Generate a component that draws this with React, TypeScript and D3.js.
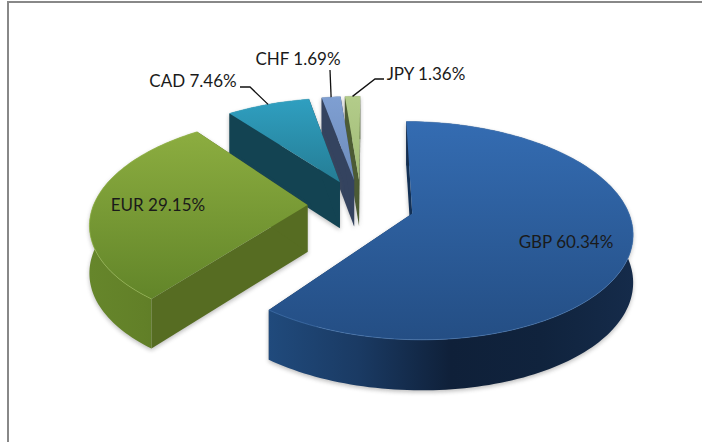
import React from "react";
import * as d3 from "d3";

const categories = ["GBP", "EUR", "CAD", "CHF", "JPY"];
const shares = [60.34, 29.15, 7.46, 1.69, 1.36];
const drawOrder = ["JPY", "CHF", "CAD", "EUR", "GBP"];

const topColors: Record<string, [string, string]> = {
  GBP: ["#346cb2", "#244e84"],
  EUR: ["#8cad40", "#628529"],
  CAD: ["#2f9fc0", "#257d95"],
  CHF: ["#7f9fd2", "#6d8cbb"],
  JPY: ["#b3cc8a", "#a0bb76"],
};
const sideColors: Record<string, string> = {
  GBP: "#123055",
  EUR: "#566c22",
  CAD: "#134352",
  CHF: "#34435f",
  JPY: "#4c5c33",
};
const rimStops: Record<string, string[]> = {
  GBP: ["#204a7c", "#1a3a63", "#0f2039", "#10233d", "#152b4a"],
  EUR: ["#66862b", "#628028", "#587424", "#516a21", "#4a621d"],
  CAD: ["#134352", "#134352", "#134352", "#134352", "#134352"],
  CHF: ["#34435f", "#34435f", "#34435f", "#34435f", "#34435f"],
  JPY: ["#4c5c33", "#4c5c33", "#4c5c33", "#4c5c33", "#4c5c33"],
};
const rimHighlight: Record<string, string> = {
  GBP: "#4f82c0",
  EUR: "#a3c25a",
  CAD: "#46b0cd",
  CHF: "#94b0dc",
  JPY: "#c6dba2",
};

const labelLayout: Record<string, { x: number; y: number; elbow?: [number, number][] }> = {
  GBP: { x: 566, y: 248 },
  EUR: { x: 158, y: 211 },
  CAD: { x: 193, y: 87, elbow: [[240, 87], [250, 87]] },
  CHF: { x: 298, y: 65, elbow: [[330, 70]] },
  JPY: { x: 426, y: 80, elbow: [[384, 79], [375, 79]] },
};

const W = 702;
const H = 442;
const cx = 361;
const cy = 205;
const sx = 214;
const sy = 103.8;
const persp = 0.155;
const explode = 0.25;
const depth = 47;
const depthPersp = 0.07;

const pieGen = d3.pie<number>().sort(null).value((d) => d).startAngle(0.005).endAngle(Math.PI * 2 + 0.005);
const arcs = pieGen(shares);

type P = [number, number];

function project(theta: number, r: number, mid: number, z: number): P {
  const X = explode * Math.sin(mid) + r * Math.sin(theta);
  const Y = -explode * Math.cos(mid) - r * Math.cos(theta);
  const w = 1 - persp * Y;
  return [cx + (sx * X) / w, cy + (sy * Y) / w + z * depth * (1 + depthPersp * Y)];
}

const line = d3.line<P>();

function App() {
  const slices = categories.map((name, i) => {
    const a = arcs[i];
    const mid = (a.startAngle + a.endAngle) / 2;
    const n = Math.max(4, Math.ceil((a.endAngle - a.startAngle) * 40));
    const thetas = d3.range(n + 1).map((k) => a.startAngle + ((a.endAngle - a.startAngle) * k) / n);
    const rimTop = thetas.map((t) => project(t, 1, mid, 0));
    const rimBottom = thetas.map((t) => project(t, 1, mid, 1));
    const apexTop = project(0, 0, mid, 0);
    const apexBottom = project(0, 0, mid, 1);
    const top = line([apexTop, ...rimTop])! + "Z";
    const rim = line([...rimTop, ...[...rimBottom].reverse()])! + "Z";
    const side0 = line([apexTop, rimTop[0], rimBottom[0], apexBottom])! + "Z";
    const side1 = line([apexTop, rimTop[n], rimBottom[n], apexBottom])! + "Z";
    const silhouette = [top, rim, side0, side1];
    const ys = rimTop.map((p) => p[1]).concat(apexTop[1]);
    const xs = rimBottom.map((p) => p[0]).concat(apexBottom[0]);
    return {
      name,
      share: shares[i],
      mid,
      top,
      rim,
      side0,
      side1,
      silhouette,
      rimTopPath: line(rimTop)!,
      y0: d3.min(ys)!,
      y1: d3.max(ys)!,
      x0: d3.min(xs)!,
      x1: d3.max(xs)!,
      anchor: project(mid, 1, mid, 0),
    };
  });
  const ordered = drawOrder.map((n) => slices.find((s) => s.name === n)!);

  return (
    <svg
      width={W}
      height={H}
      viewBox={`0 0 ${W} ${H}`}
      style={{ position: "fixed", left: 0, top: 0, background: "#fff", display: "block" }}
    >
      <defs>
        <filter id="soft" x="-20%" y="-20%" width="140%" height="140%">
          <feGaussianBlur stdDeviation="2" />
        </filter>
        {ordered.map((s) => (
          <linearGradient
            key={s.name}
            id={`top-${s.name}`}
            gradientUnits="userSpaceOnUse"
            x1={0}
            x2={0}
            y1={s.y0}
            y2={s.y1}
          >
            <stop offset="0" stopColor={topColors[s.name][0]} />
            <stop offset="1" stopColor={topColors[s.name][1]} />
          </linearGradient>
        ))}
        {ordered.map((s) => (
          <linearGradient
            key={s.name}
            id={`rim-${s.name}`}
            gradientUnits="userSpaceOnUse"
            x1={s.x0}
            x2={s.x1}
            y1={0}
            y2={0}
          >
            {rimStops[s.name].map((c, i) => (
              <stop key={i} offset={i / (rimStops[s.name].length - 1)} stopColor={c} />
            ))}
          </linearGradient>
        ))}
      </defs>

      <rect x={7} y={1} width={W - 7} height={2} fill="#888" />
      <rect x={7} y={1} width={2} height={H - 1} fill="#888" />

      {ordered.map((s) => (
        <g key={s.name}>
          <g filter="url(#soft)" opacity={0.38} transform="translate(0,2)">
            {s.silhouette.map((d, i) => (
              <path key={i} d={d} fill="#555" />
            ))}
          </g>
          <path d={s.side0} fill={sideColors[s.name]} />
          <path d={s.side1} fill={sideColors[s.name]} />
          <path d={s.rim} fill={`url(#rim-${s.name})`} />
          <path d={s.top} fill={`url(#top-${s.name})`} />
          <path d={s.rimTopPath} fill="none" stroke={rimHighlight[s.name]} strokeOpacity={0.55} strokeWidth={1} />
        </g>
      ))}

      {slices
        .filter((s) => labelLayout[s.name].elbow)
        .map((s) => (
          <path
            key={s.name}
            d={line([...labelLayout[s.name].elbow!, s.anchor])!}
            fill="none"
            stroke="#111"
            strokeWidth={1.3}
          />
        ))}

      {slices.map((s) => (
        <text
          key={s.name}
          x={labelLayout[s.name].x}
          y={labelLayout[s.name].y}
          textAnchor="middle"
          fontFamily="Lato, 'Open Sans', sans-serif"
          fontSize={17}
          fill="#1a1a1a"
        >
          {`${s.name} ${s.share.toFixed(2)}%`}
        </text>
      ))}
    </svg>
  );
}

export default App;
